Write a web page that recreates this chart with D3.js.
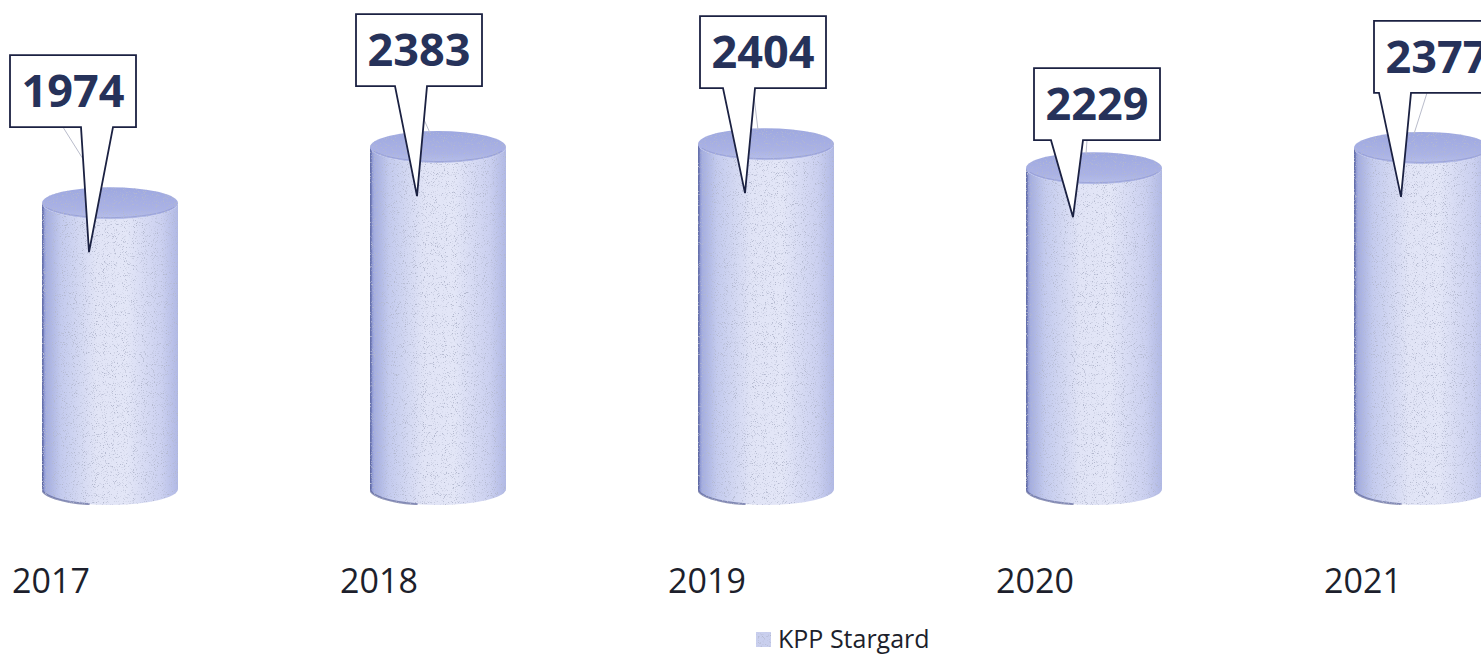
<!DOCTYPE html>
<html>
<head>
<meta charset="utf-8">
<script src="https://cdn.jsdelivr.net/npm/d3@7"></script>
<style>
	html, body { margin: 0; padding: 0; background: #fff; }
	svg { display: block; }
	.year { font-family: "Open Sans", sans-serif; font-size: 34px; fill: #1d1f2c; }
	.val { font-family: "Open Sans", sans-serif; font-weight: 700; font-size: 45px; fill: #26325a; }
	.legend text { font-family: "Open Sans", sans-serif; font-size: 25px; fill: #1d1f2c; }
</style>
</head>
<body>
<div id="chart"></div>
<script>
const years = ['2017', '2018', '2019', '2020', '2021'];
const values = [1974, 2383, 2404, 2229, 2377];
const seriesName = 'KPP Stargard';

// callout box placement (layout only)
const calloutDx = [-37, -19, -3, 3, 15];
const calloutDy = [-76, -61, -56, -28, -55];

const W = 1481, H = 659;
const rx = 68, ry = 16, floorDrop = 15;
const boxW = 126, boxH = 72;

const x = d3.scalePoint().domain(years).range([110, 1422]);
const y = d3.scaleLinear().domain([0, 2500]).range([474, 131]);

const svg = d3.select('#chart').append('svg')
	.attr('width', W)
	.attr('height', H);

const defs = svg.append('defs');

// body shading
const sideGrad = defs.append('linearGradient').attr('id', 'side')
	.attr('x1', '0%').attr('x2', '100%').attr('y1', '0%').attr('y2', '0%');
[[0, '#7782c6'], [0.03, '#a4addf'], [0.14, '#c4cbee'], [0.4, '#e1e4f6'], [0.62, '#e3e6f7'], [0.88, '#cbd0f0'], [1, '#b1b9e5']]
	.forEach(s => sideGrad.append('stop').attr('offset', s[0]).attr('stop-color', s[1]));

const topGrad = defs.append('linearGradient').attr('id', 'topfill')
	.attr('x1', '0%').attr('x2', '0%').attr('y1', '0%').attr('y2', '100%');
[[0, '#9ea8e0'], [0.7, '#aab2e5'], [1, '#b7bfea']]
	.forEach(s => topGrad.append('stop').attr('offset', s[0]).attr('stop-color', s[1]));

// speckle texture
const f = defs.append('filter').attr('id', 'speckle')
	.attr('x', 0).attr('y', 0).attr('width', '100%').attr('height', '100%');
f.append('feTurbulence').attr('type', 'fractalNoise').attr('baseFrequency', 1.1)
	.attr('numOctaves', 2).attr('seed', 3).attr('result', 'noise');
f.append('feColorMatrix').attr('in', 'noise').attr('type', 'matrix')
	.attr('values', '0 0 0 0 0.45  0 0 0 0 0.48  0 0 0 0 0.62  0 0 0 -5 2.1')
	.attr('result', 'dots');
f.append('feComposite').attr('in', 'dots').attr('in2', 'SourceGraphic').attr('operator', 'in').attr('result', 'dotsIn');
f.append('feMerge').call(m => {
	m.append('feMergeNode').attr('in', 'SourceGraphic');
	m.append('feMergeNode').attr('in', 'dotsIn');
});

const data = years.map((yr, i) => ({ year: yr, value: values[i], i: i }));

// cylinders
const cyl = svg.append('g').selectAll('g.cyl')
	.data(data)
	.enter()
	.append('g')
	.classed('cyl', true)
	.attr('filter', 'url(#speckle)');

cyl.append('path')
	.attr('d', d => {
		const cx = x(d.year), yt = y(d.value), yb = y(0) + floorDrop;
		return `M${cx - rx},${yt} L${cx - rx},${yb} A${rx},${ry} 0 0 0 ${cx + rx},${yb} L${cx + rx},${yt} A${rx},${ry} 0 0 1 ${cx - rx},${yt} Z`;
	})
	.attr('fill', 'url(#side)');

// dark rim at bottom left
cyl.append('path')
	.attr('d', d => {
		const cx = x(d.year), yb = y(0) + floorDrop;
		return `M${cx - rx},${yb - 40} L${cx - rx},${yb} A${rx},${ry} 0 0 0 ${cx - rx * 0.3},${yb + ry * 0.95}`;
	})
	.attr('fill', 'none')
	.attr('stroke', '#5b6499')
	.attr('stroke-width', 2)
	.attr('opacity', 0.7);

cyl.append('line')
	.attr('x1', d => x(d.year) - rx + 0.8)
	.attr('x2', d => x(d.year) - rx + 0.8)
	.attr('y1', d => y(d.value))
	.attr('y2', d => y(0) + floorDrop)
	.attr('stroke', '#5e68a3')
	.attr('stroke-width', 1.6)
	.attr('opacity', 0.75);

cyl.append('ellipse')
	.attr('cx', d => x(d.year))
	.attr('cy', d => y(d.value))
	.attr('rx', rx)
	.attr('ry', ry)
	.attr('fill', 'url(#topfill)');

// front rim of the top face
cyl.append('path')
	.attr('d', d => {
		const cx = x(d.year), yt = y(d.value);
		return `M${cx - rx + 4},${yt + 4} A${rx},${ry} 0 0 0 ${cx + rx - 4},${yt + 4}`;
	})
	.attr('fill', 'none')
	.attr('stroke', '#8a93cf')
	.attr('stroke-width', 1)
	.attr('opacity', 0.6);

// faint leader lines
svg.append('g').selectAll('line')
	.data(data)
	.enter()
	.append('line')
	.attr('x1', d => x(d.year) + calloutDx[d.i] - 10)
	.attr('y1', d => y(d.value) + calloutDy[d.i])
	.attr('x2', d => x(d.year) - 8)
	.attr('y2', d => y(d.value) - ry + 2)
	.attr('stroke', '#b9bccb')
	.attr('stroke-width', 1);

// callouts
const tipDx = -21, tipDy = 49, baseHalf = 16;
const callout = svg.append('g').selectAll('g.callout')
	.data(data)
	.enter()
	.append('g')
	.classed('callout', true);

callout.append('path')
	.attr('d', d => {
		const cx = x(d.year) + calloutDx[d.i];
		const bottom = y(d.value) + calloutDy[d.i];
		const left = cx - boxW / 2, right = cx + boxW / 2, topY = bottom - boxH;
		const tx = x(d.year) + tipDx, ty = y(d.value) + tipDy;
		const bc = Math.max(left + baseHalf + 4, Math.min(right - baseHalf - 4, tx + (d.i === 0 ? 8 : -6)));
		return `M${left},${topY} L${right},${topY} L${right},${bottom} L${bc + baseHalf},${bottom} L${tx},${ty} L${bc - baseHalf},${bottom} L${left},${bottom} Z`;
	})
	.attr('fill', '#fff')
	.attr('stroke', '#1b2142')
	.attr('stroke-width', 1.8)
	.attr('stroke-linejoin', 'miter');

callout.append('text')
	.classed('val', true)
	.attr('x', d => x(d.year) + calloutDx[d.i])
	.attr('y', d => y(d.value) + calloutDy[d.i] - boxH / 2 + 16)
	.attr('text-anchor', 'middle')
	.text(d => d.value);

// category labels
svg.append('g').selectAll('text')
	.data(years)
	.enter()
	.append('text')
	.classed('year', true)
	.attr('x', d => x(d) - 59)
	.attr('y', 593)
	.attr('text-anchor', 'middle')
	.text(d => d);

// legend
const legend = svg.append('g').classed('legend', true).attr('transform', 'translate(756, 632)');
legend.append('rect')
	.attr('width', 15).attr('height', 15)
	.attr('fill', '#c9cfee')
	.attr('filter', 'url(#speckle)');
legend.append('text')
	.attr('x', 22)
	.attr('y', 16)
	.text(seriesName);
</script>
</body>
</html>
